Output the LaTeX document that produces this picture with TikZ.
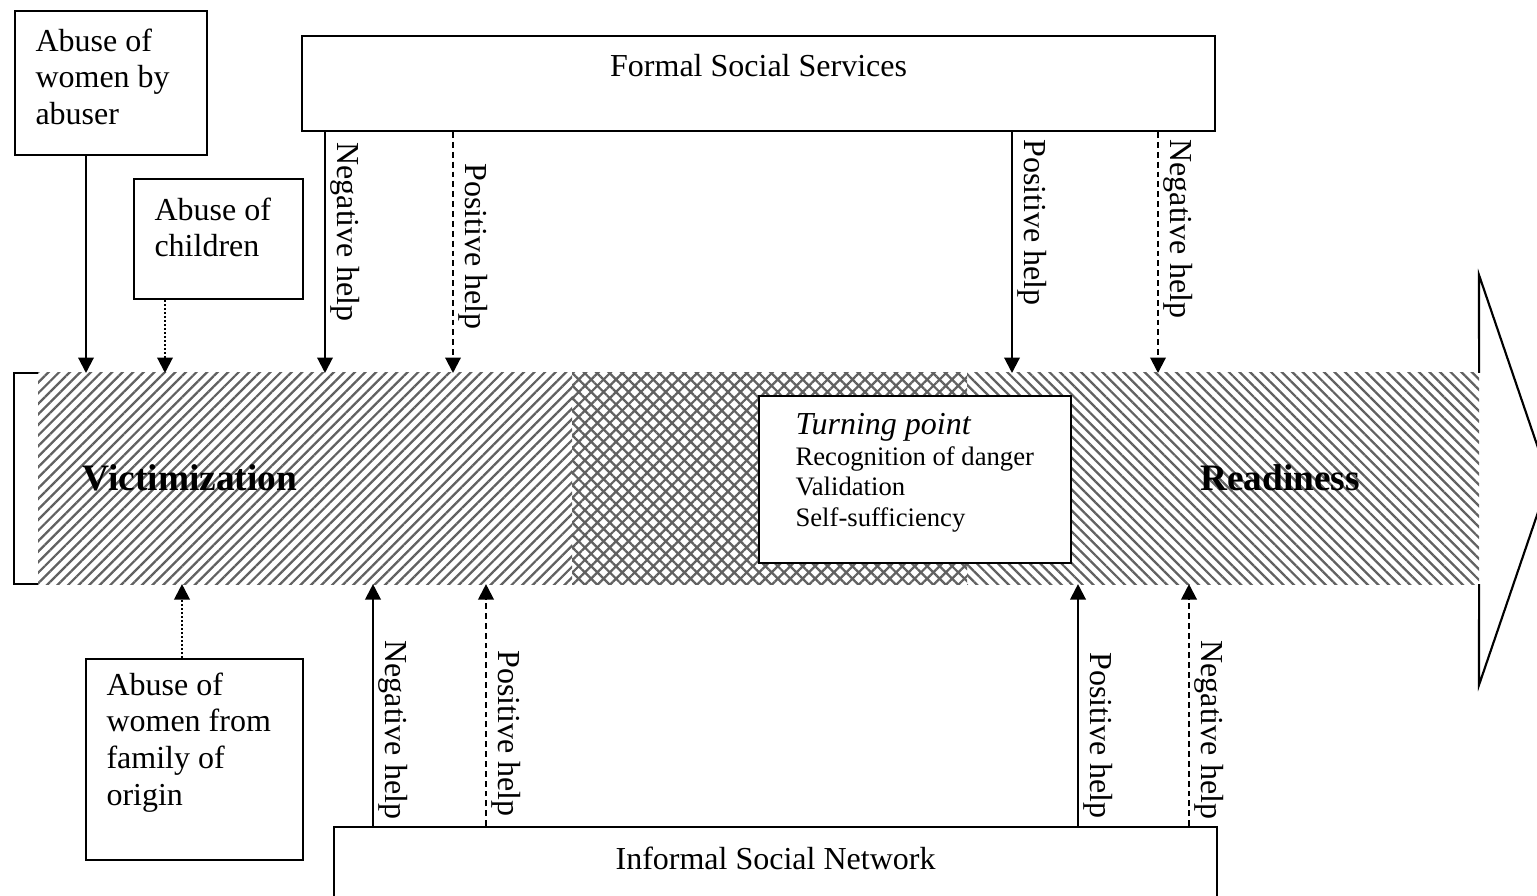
\documentclass[tikz,border=0pt]{standalone}
\usepackage{fontspec}
\setmainfont{Liberation Serif}
\usetikzlibrary{arrows.meta,patterns.meta}
\begin{document}
\begin{tikzpicture}[x=0.375pt,y=-0.375pt,
  sized/.style 2 args={minimum width={#1*0.375pt},minimum height={#2*0.375pt}},
  box/.style={draw,line width=0.8pt,fill=white,inner sep=0pt,anchor=north west},
  txt/.style={inner sep=0pt,align=left,font=\fontsize{12}{13.8}\selectfont},
  small/.style={inner sep=0pt,anchor=base west,font=\fontsize{10}{12}\selectfont},
  flow/.style={line width=0.8pt,-{Triangle[length=5.8pt,width=5.8pt]}},
  dashflow/.style={dash pattern=on 2.2pt off 1.5pt},
  dotflow/.style={dash pattern=on 0.7pt off 0.8pt},
  helplab/.style={rotate=-90,anchor=base west,inner sep=0pt,font=\fontsize{12}{14}\selectfont},
  stage/.style={inner sep=0pt,font=\fontsize{14}{16}\selectfont\bfseries},
  hatch/.style={pattern={Lines[angle=#1,distance=2.8pt,line width=0.85pt]},pattern color=black!62},
]
\useasboundingbox (0,0) rectangle (1537,896);

% the process band
\node[inner sep=0pt,anchor=north west,sized={1440}{210}] (band) at (38,373) {};
\fill[hatch=45] (band.north west) rectangle (572,0 |- band.south);
\fill[pattern={Hatch[angle=45,distance=3.3pt,line width=0.85pt]},pattern color=black!62]
  (572,0 |- band.north) rectangle (967,0 |- band.south);
\fill[hatch=-45] (967,0 |- band.north) rectangle (band.south east);

% bracket on the left and the large arrow head on the right
\draw[line width=0.8pt] (band.north west) -- ++(-24,0) |- (band.south west);
\draw[line width=0.8pt,line join=miter] (band.north east) -- (1479,275) -- (1549,480)
  -- (1479,685) -- (band.south east);

\node[stage] (victim) at (190,478) {Victimization};
\node[stage] (ready) at (1280,478) {Readiness};

% turning point
\node[box,sized={312}{167}] (turn) at (758,395) {};
\node[inner sep=0pt,anchor=base west,font=\fontsize{12}{14}\selectfont\itshape]
  at ([shift={(37,40)}]turn.north west) {Turning point};
\node[small] at ([shift={(37,71)}]turn.north west) {Recognition of danger};
\node[small] at ([shift={(37,101)}]turn.north west) {Validation};
\node[small] at ([shift={(37,132)}]turn.north west) {Self-sufficiency};

% sources of abuse
\node[box,sized={192}{144}] (abuser) at (14,10) {};
\node[txt,anchor=north west] at ([shift={(21,18)}]abuser.north west) {Abuse of\\women by\\abuser};
\node[box,sized={169}{120}] (children) at (133,178) {};
\node[txt,anchor=north west] at ([shift={(21,19)}]children.north west) {Abuse of\\children};
\node[box,sized={217}{201}] (origin) at (85,658) {};
\node[txt,anchor=north west] at ([shift={(21,14)}]origin.north west) {Abuse of\\women from\\family of\\origin};

\draw[flow] (86,0 |- abuser.south) -- (86,0 |- band.north);
\draw[flow,dotflow] (165,0 |- children.south) -- (165,0 |- band.north);
\draw[flow,dotflow] (182,0 |- origin.north) -- (182,0 |- band.south);

% formal social services
\node[box,sized={913}{95}] (formal) at (301,35) {};
\node[txt] at ([shift={(0,31)}]formal.north) {Formal Social Services};
\draw[flow] (325,0 |- formal.south) -- (325,0 |- band.north);
\draw[flow,dashflow] (453,0 |- formal.south) -- (453,0 |- band.north);
\draw[flow] (1012,0 |- formal.south) -- (1012,0 |- band.north);
\draw[flow,dashflow] (1158,0 |- formal.south) -- (1158,0 |- band.north);
\node[helplab] at (337,142) {Negative help};
\node[helplab] at (465,163) {Positive help};
\node[helplab] at (1024,139) {Positive help};
\node[helplab] at (1170,139) {Negative help};

% informal social network
\node[box,sized={883}{100}] (informal) at (333,826) {};
\node[txt] at ([shift={(0,32)}]informal.north) {Informal Social Network};
\draw[flow] (373,0 |- informal.north) -- (373,0 |- band.south);
\draw[flow,dashflow] (486,0 |- informal.north) -- (486,0 |- band.south);
\draw[flow] (1078,0 |- informal.north) -- (1078,0 |- band.south);
\draw[flow,dashflow] (1189,0 |- informal.north) -- (1189,0 |- band.south);
\node[helplab] at (385,640) {Negative help};
\node[helplab] at (498,650) {Positive help};
\node[helplab] at (1090,652) {Positive help};
\node[helplab] at (1201,640) {Negative help};
\end{tikzpicture}
\end{document}
